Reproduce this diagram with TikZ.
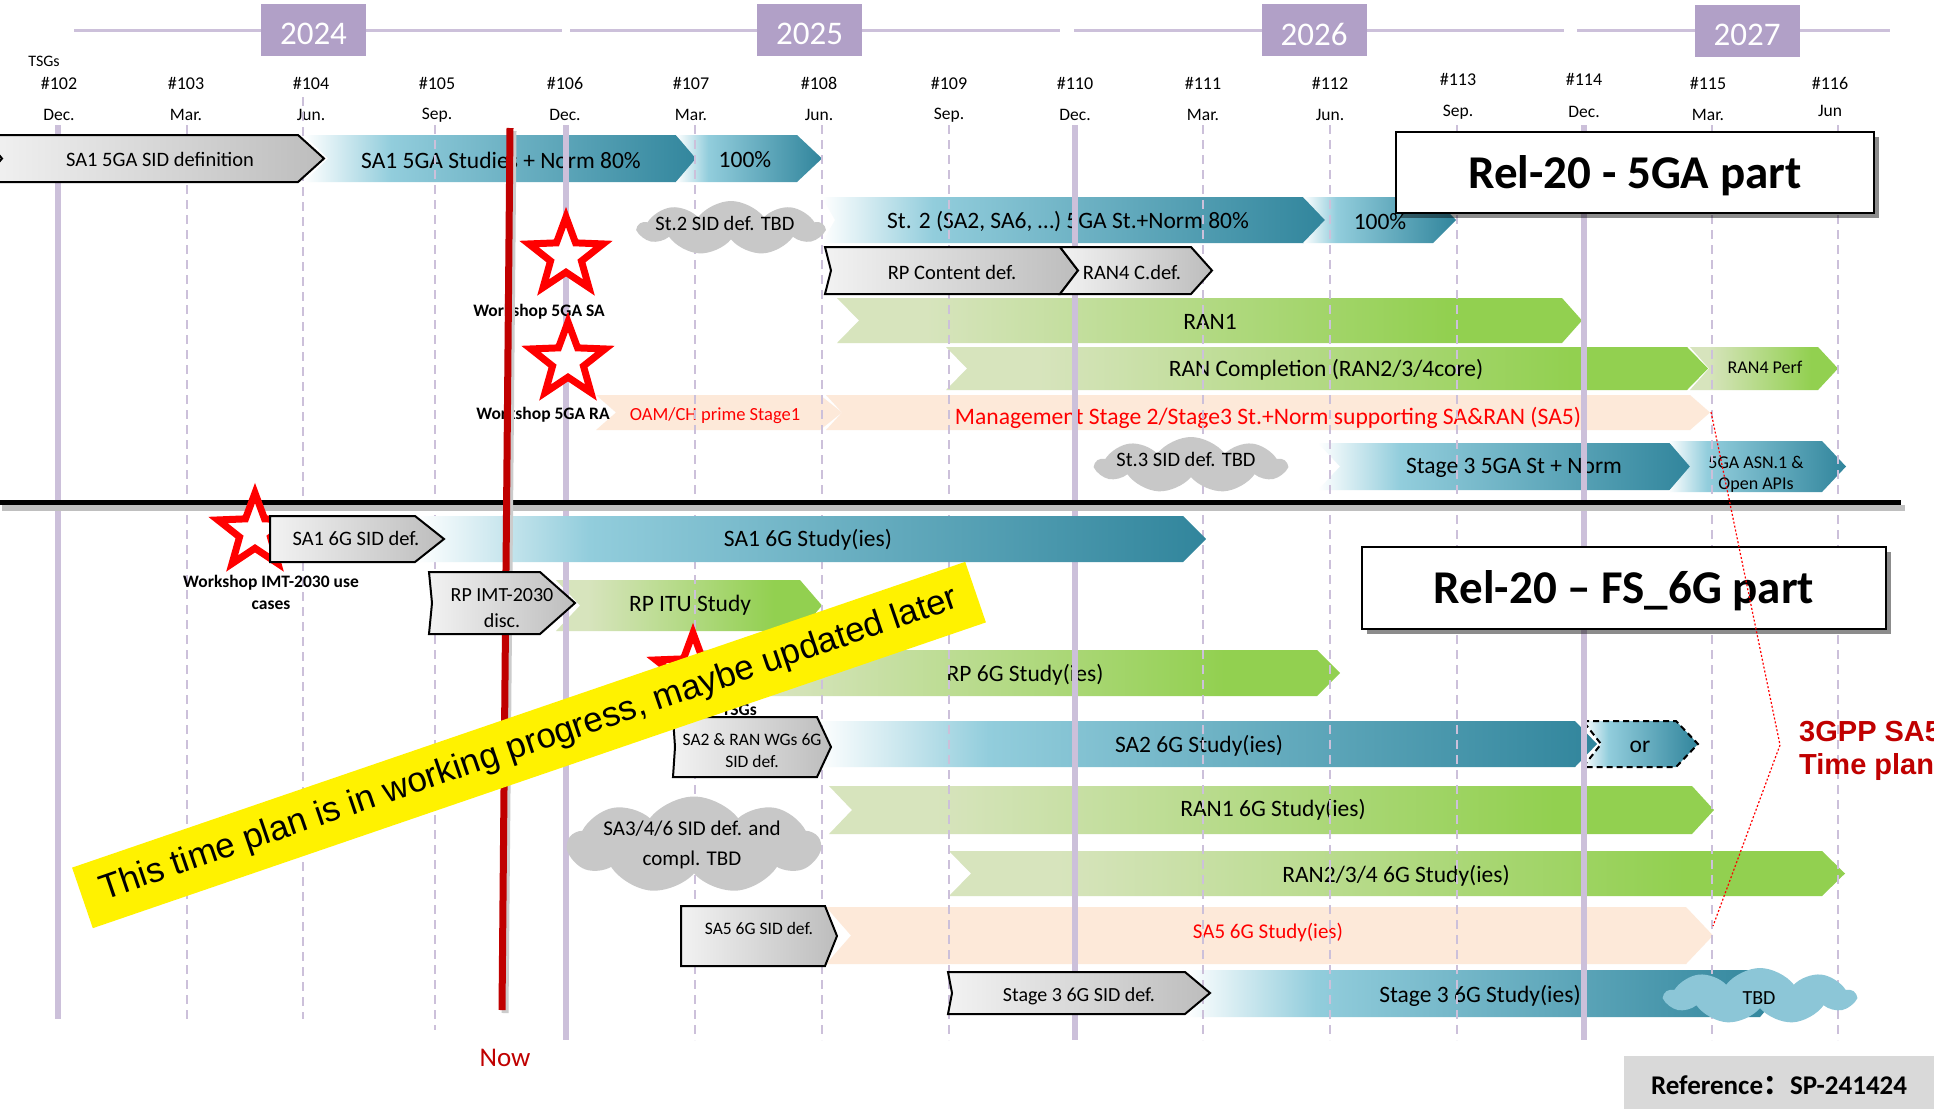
\documentclass[tikz,border=0pt]{standalone}
\usepackage{fontspec}
\setmainfont{Carlito}
\newfontfamily\arialf{Liberation Sans}
\newfontfamily\cjkf{Noto Sans CJK SC}
\usetikzlibrary{shapes.geometric,shapes.symbols,shadows}

\definecolor{ppl}{HTML}{B1A0C7}
\definecolor{pline}{HTML}{CCC0DA}
\definecolor{lblue}{HTML}{92CDDC}
\definecolor{dblue}{HTML}{31859C}
\definecolor{lgreen}{HTML}{D7E4BD}
\definecolor{dgreen}{HTML}{92D050}
\definecolor{peach}{HTML}{FDE9D9}
\definecolor{nowred}{HTML}{C00000}
\definecolor{cloudgray}{HTML}{C8C8C8}
\definecolor{cloudblue}{HTML}{8CC6D7}
\definecolor{refgray}{HTML}{D9D9D9}

\pgfdeclarehorizontalshading{blueshade}{100bp}{color(0bp)=(white); color(25bp)=(white); color(36bp)=(lblue); color(75bp)=(dblue); color(100bp)=(dblue)}
\pgfdeclarehorizontalshading{greenshade}{100bp}{color(0bp)=(lgreen); color(25bp)=(lgreen); color(31bp)=(lgreen); color(66bp)=(dgreen); color(100bp)=(dgreen)}
\pgfdeclarehorizontalshading{grayshade}{100bp}{color(0bp)=(gray!10); color(25bp)=(gray!10); color(75bp)=(gray!52); color(100bp)=(gray!52)}

\newcommand{\fsz}[1]{\fontsize{#1}{#1}\selectfont}
% style, x1, x2 (body end), y1, y2, notch, tip
\newcommand{\chev}[7]{\path[#1] (#2,#4) -- (#3,#4) -- ({#3+#7},{(#4+#5)/2}) -- (#3,#5) -- (#2,#5) -- ({#2+#6},{(#4+#5)/2}) -- cycle;}

\tikzset{
  bluebar/.style={shade, shading=blueshade},
  greenbar/.style={shade, shading=greenshade},
  peachbar/.style={fill=peach},
  graybox/.style={shade, shading=grayshade, draw=black, line width=2pt},
  orbox/.style={shade, shading=blueshade, draw=black, line width=2pt, dash pattern=on 6pt off 4pt},
  bartxt/.style={font=\fsz{23.5}},
  gtxt/.style={font=\fsz{20.5}},
  smtxt/.style={font=\fsz{18}},
  redtxt/.style={text=red},
  wstxt/.style={font=\bfseries\fsz{17.5}},
  yearbox/.style={fill=ppl, minimum width=105, minimum height=52},
  yeartxt/.style={text=white, font=\fsz{33}},
  tsg/.style={font=\fsz{18}},
  mon/.style={font=\fsz{17.5}},
  solidv/.style={pline, line width=6pt},
  dashv/.style={pline, line width=2pt, dash pattern=on 9pt off 6pt},
  wstar/.style={star, star points=5, star point ratio=2.4, minimum size=78, draw=red, line width=7pt, fill=white},
  relbox/.style={draw=black, line width=2pt, fill=white, minimum height=81, drop shadow={shadow xshift=5pt, shadow yshift=-5pt, opacity=0.45, fill=black}},
  reltxt/.style={font=\bfseries\fsz{47}},
  cloudn/.style={cloud, cloud puffs=9, cloud puff arc=105, fill=cloudgray, draw=none},
}

\begin{document}
\begin{tikzpicture}[x=1pt, y=-1pt, every node/.style={inner sep=0pt}]
\fill[white] (0,0) rectangle (1934,1109);
\useasboundingbox (0,0) rectangle (1934,1109);

% ---------- header ----------
\foreach \a/\b in {74/562,570/1060,1074/1564,1577/1890} \draw[pline, line width=3pt] (\a,30) -- (\b,30);
\node[yearbox] (y24) at (313.5,30) {};
\node[yearbox] (y25) at (809.5,30) {};
\node[yearbox] (y26) at (1314,30) {};
\node[yearbox] (y27) at (1747,31) {};
\node[yeartxt] (y24t) at (313.5,34) {2024};
\node[yeartxt] (y25t) at (809.5,34) {2025};
\node[yeartxt] (y26t) at (1314,34) {2026};
\node[yeartxt] (y27t) at (1747,35) {2027};
\node[font=\fsz{16}] (tsgs) at (44,61) {TSGs};
\foreach \x/\n/\m/\ty/\my [count=\i] in {59/102/Dec./83/115, 186/103/Mar./83/115, 311/104/Jun./83/115, 437/105/Sep./83/115, 565/106/Dec./83/115, 691/107/Mar./83/115, 819/108/Jun./83/115, 949/109/Sep./83/115, 1075/110/Dec./83/115, 1203/111/Mar./83/115, 1330/112/Jun./83/115, 1458/113/Sep./79/112, 1584/114/Dec./79/112, 1708/115/Mar./83/115, 1830/116/Jun/83/111}
{
  \node[tsg] (t\i) at (\x,\ty) {\#\n};
  \node[mon] (m\i) at (\x,\my) {\m};
}

% ---------- coloured bars (5GA part) ----------
\chev{bluebar}{304}{676}{135}{182}{24}{24}
\node[bartxt] (sa1st) at (501,160) {SA1 5GA Studies + Norm 80\%};
\chev{bluebar}{676}{797}{135}{182}{20}{25}
\node[bartxt] (p100a) at (745,160) {100\%};
\chev{bluebar}{822}{1304}{197}{243}{13}{22}
\node[bartxt] (st2) at (1068,222) {St. 2 (SA2, SA6, …) 5GA St.+Norm 80\%};
\chev{bluebar}{1303}{1433}{197}{243}{22}{23}
\node[bartxt] (p100b) at (1380,222) {100\%};
\chev{greenbar}{837}{1562}{298}{343}{22}{20}
\node[bartxt] (ran1) at (1210,322) {RAN1};
\chev{greenbar}{946}{1687}{347}{390}{21}{21}
\node[bartxt] (rancomp) at (1326,370) {RAN Completion (RAN2/3/4core)};
\chev{greenbar}{1690}{1818}{347}{390}{19}{20}
\node[smtxt] (ran4p) at (1765,367) {RAN4 Perf};
\chev{peachbar}{596}{820}{395}{430}{20}{22}
\node[smtxt, redtxt, font=\fsz{18.5}] (oam) at (715,416) {OAM/CH prime Stage1};
\chev{peachbar}{826}{1690}{395}{430}{16}{20}
\node[redtxt, font=\fsz{23.6}] (mgmt) at (1268,418) {Management Stage 2/Stage3 St.+Norm supporting SA\&RAN (SA5)};
\chev{bluebar}{1318}{1670}{443}{490}{22}{21}
\node[bartxt] (st3) at (1514,468) {Stage 3 5GA St + Norm};
\chev{bluebar}{1668}{1822}{441}{492}{22}{24}
\node[font=\fontsize{18}{21}\selectfont, align=center] (asn) at (1756,474) {5GA ASN.1 \&\\Open APIs};

% ---------- coloured bars (6G part) ----------
\chev{greenbar}{556}{800}{580}{631}{24}{22}
\node[bartxt] (rpitu) at (690,605) {RP ITU Study};
\chev{greenbar}{700}{1317}{650}{696}{20}{23}
\node[bartxt] (rp6g) at (1025,675) {RP 6G Study(ies)};
\chev{bluebar}{817}{1575}{721}{767}{14}{22}
\node[bartxt] (sa26g) at (1199,746) {SA2 6G Study(ies)};
\chev{orbox}{1583}{1676}{721}{767}{18}{22}
\node[bartxt] (orx) at (1640,747) {or};
\chev{greenbar}{829}{1692}{786}{834}{23}{22}
\node[bartxt] (ran16g) at (1273,810) {RAN1 6G Study(ies)};
\chev{greenbar}{949}{1822}{851}{896}{22}{23}
\node[bartxt] (ran2346g) at (1396,876) {RAN2/3/4 6G Study(ies)};
\chev{peachbar}{826}{1686}{907}{964}{25}{27}
\node[redtxt, font=\fsz{21}] (sa56g) at (1268,932) {SA5 6G Study(ies)};
\chev{bluebar}{1185}{1760}{970}{1017}{25}{20}
\node[bartxt] (st36g) at (1480,996) {Stage 3 6G Study(ies)};

% ---------- vertical timeline lines ----------
\foreach \x/\b in {58/1019,566/1040,1075/1040,1584/1040} \draw[solidv] (\x,125) -- (\x,\b);
\foreach \x/\t/\b in {187/125/1019,303/97/1019,435/125/1030,695/125/1040,822/125/1040,949/125/1040,1203/125/1040,1330/125/1040,1457/125/1040,1712/125/1040,1838/125/1040} \draw[dashv] (\x,\t) -- (\x,\b);

% ---------- separator ----------
\draw[black!25, line width=6pt] (2,508) -- (1905,508);
\draw[black, line width=5pt] (0,502) -- (1901,502);

% SA1 6G study (covers lines)
\chev{bluebar}{415}{1183}{516}{562}{29}{23}
\node[bartxt] (sa16g) at (808,540) {SA1 6G Study(ies)};

% ---------- workshops (upper) ----------
\node[wstar] (ws1) at (566,256) {};
\node[wstxt] (ws1l) at (539,312) {Workshop 5GA SA};
\node[wstar] (ws2) at (568,361) {};
\node[wstxt] (ws2l) at (543,415) {Workshop 5GA RA};
\node[wstar] (ws3) at (255,532) {};
\node[wstxt, align=center, font=\bfseries\fontsize{17.5}{22}\selectfont] (ws3l) at (271,592) {Workshop IMT-2030 use\\cases};

% ---------- Now line ----------
\draw[black!20, line width=7pt] (513,131) -- (505,1013);
\draw[nowred, line width=7pt] (510,128) coordinate (nowtop) -- (502,1010) coordinate (nowbot);
\node[text=nowred, font=\fsz{27}] (now) at (505,1058) {Now};

% ---------- gray boxes ----------
\chev{graybox}{-18}{298}{135}{182}{20}{26}
\node[gtxt] (sa1sid) at (160,159) {SA1 5GA SID definition};
\chev{graybox}{825}{1060}{247}{294}{6}{18}
\chev{graybox}{1060}{1191}{247}{294}{18}{21}
\node[gtxt] (rpcont) at (952,272) {RP Content def.};
\node[gtxt] (ran4c) at (1132,272) {RAN4 C.def.};
\chev{graybox}{270}{415}{516}{562}{0}{29}
\node[gtxt] (sa16gsid) at (356,538) {SA1 6G SID def.};
\chev{graybox}{429}{540}{572}{634}{3}{35}
\node[align=center, font=\fontsize{20}{26}\selectfont] (rpimt) at (502,608) {RP IMT-2030\\disc.};
\chev{graybox}{673}{817}{717}{777}{2}{14}
\node[align=center, font=\fontsize{17.5}{22}\selectfont] (sa2sid) at (752,751) {SA2 \& RAN WGs 6G\\SID def.};
\chev{graybox}{681}{825}{906}{966}{0}{12}
\node[font=\fsz{17.5}] (sa5sid) at (759,928) {SA5 6G SID def.};
\chev{graybox}{948}{1185}{972}{1014}{4}{25}
\node[font=\fsz{20}] (st3sid) at (1079,996) {Stage 3 6G SID def.};

% ---------- clouds ----------
\node[cloudn, minimum width=185, minimum height=54, aspect=3.4] (c1) at (731,228) {};
\node[font=\fsz{20.5}] (c1t) at (725,223) {St.2 SID def. TBD};
\node[cloudn, minimum width=190, minimum height=56, aspect=3.4] (c2) at (1191,465) {};
\node[font=\fsz{20.5}] (c2t) at (1186,459) {St.3 SID def. TBD};
\node[cloudn, minimum width=252, minimum height=97, aspect=2.6] (c3) at (694,845) {};
\node[align=center, font=\fontsize{21}{30}\selectfont] (c3t) at (692,845) {SA3/4/6 SID def. and\\compl. TBD};
\node[cloudn, fill=cloudblue, minimum width=190, minimum height=56, aspect=3.4] (c4) at (1760,996) {};
\node[font=\fsz{20}] (c4t) at (1759,998) {TBD};

% ---------- Rel-20 boxes ----------
\node[relbox, minimum width=478] (rel5) at (1635,172.5) {};
\node[reltxt] (rel5t) at (1635,176) {Rel-20 - 5GA part};
\node[relbox, minimum width=524, minimum height=82] (rel6) at (1624,588) {};
\node[reltxt] (rel6t) at (1624,591) {Rel-20 – FS\_6G part};

% ---------- SA5 bracket ----------
\coordinate (mgtip) at (1711,412);
\coordinate (bk) at (1780,745);
\coordinate (sa5tip) at (1713,926);
\draw[red, line width=1.2pt, dash pattern=on 2pt off 2pt] (mgtip) -- (bk) -- (sa5tip);
\node[anchor=west, text=nowred, font=\arialf\bfseries\fsz{29}] (sa5a) at (1799,732) {3GPP SA5};
\node[anchor=west, text=nowred, font=\arialf\bfseries\fsz{29}] (sa5b) at (1799,767) {Time plan};

% ---------- 6G workshop star ----------
\node[wstar] (ws4) at (693,672) {};
\node[wstxt, anchor=east] (ws4l) at (757,710) {TSGs};

% ---------- banner ----------
\node[fill=yellow, rotate=18.9, minimum width=944, minimum height=64, font=\arialf\fsz{35}] (banner) at (529,745) {This time plan is in working progress, maybe updated later};

% ---------- reference ----------
\fill[refgray] (1624,1056) rectangle (1934,1109);
\node[font=\bfseries\fsz{27}] (ref) at (1779,1085) {Reference{\cjkf ：}SP-241424};
\end{tikzpicture}
\end{document}
